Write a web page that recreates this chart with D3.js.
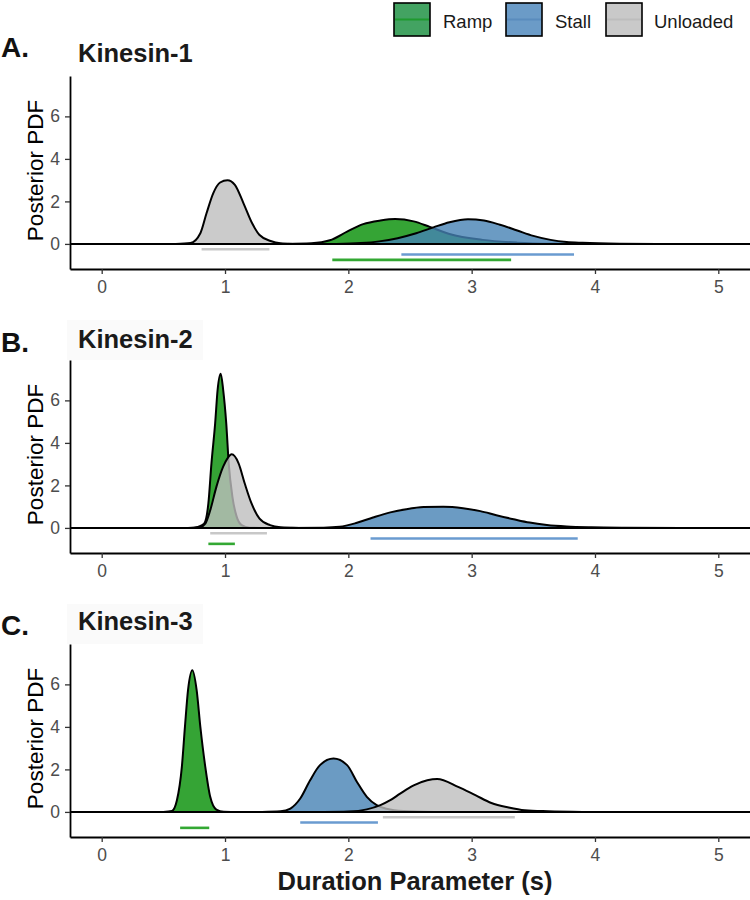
<!DOCTYPE html>
<html>
<head>
<meta charset="utf-8">
<script src="https://cdn.jsdelivr.net/npm/d3@7"></script>
<style>
  body { margin: 0; background: #fff; }
  svg { display: block; font-family: "Liberation Sans", Arial, Helvetica, sans-serif; }
</style>
</head>
<body>
<svg id="chart" width="750" height="900"></svg>
<script>
// ---------------- DATA ----------------
const seriesNames = ["Ramp", "Stall", "Unloaded"];
const panelTitles = ["Kinesin-1", "Kinesin-2", "Kinesin-3"];
const panelLetters = ["A.", "B.", "C."];
const xTicks = [0, 1, 2, 3, 4, 5];
const yTicks = [0, 2, 4, 6];

// posterior densities: [duration (s), PDF]
const k1Ramp = [[1.5,0],[1.7,0.03],[1.85,0.17],[1.99,0.58],[2.12,0.93],[2.26,1.10],[2.38,1.17],[2.53,1.06],[2.66,0.80],[2.82,0.47],[3.09,0.19],[3.37,0.06],[3.65,0.01],[3.9,0]];
const k1Stall = [[1.9,0],[2.1,0.04],[2.25,0.12],[2.4,0.27],[2.55,0.50],[2.69,0.78],[2.82,1.02],[2.97,1.16],[3.1,1.10],[3.23,0.90],[3.37,0.63],[3.5,0.38],[3.64,0.19],[3.77,0.09],[3.9,0.05],[4.2,0.01],[4.5,0]];
const k1Unloaded = [[0.6,0],[0.72,0.04],[0.80,0.50],[0.85,1.44],[0.905,2.39],[0.96,2.89],[1.02,3.0],[1.08,2.78],[1.15,1.91],[1.22,0.97],[1.28,0.42],[1.37,0.14],[1.45,0.03],[1.55,0]];

const k2Ramp = [[0.75,0],[0.83,0.2],[0.865,1.15],[0.89,3.04],[0.92,4.92],[0.94,6.5],[0.965,7.25],[0.985,6.5],[1.01,4.92],[1.03,3.04],[1.06,1.46],[1.095,0.52],[1.135,0.13],[1.2,0.01],[1.3,0]];
const k2Stall = [[1.5,0],[1.8,0.01],[1.93,0.05],[2.07,0.24],[2.2,0.49],[2.34,0.73],[2.47,0.88],[2.61,0.98],[2.77,1.0],[2.93,0.93],[3.07,0.79],[3.2,0.6],[3.34,0.41],[3.47,0.25],[3.61,0.14],[3.77,0.07],[3.97,0.03],[4.24,0.01],[4.7,0]];
const k2Unloaded = [[0.7,0],[0.8,0.04],[0.84,0.2],[0.88,0.83],[0.93,1.93],[0.985,2.88],[1.02,3.27],[1.054,3.46],[1.11,3.04],[1.16,2.09],[1.215,1.15],[1.28,0.44],[1.365,0.13],[1.45,0.03],[1.6,0]];

const k3Ramp = [[0.5,0],[0.57,0.05],[0.61,0.55],[0.65,2.12],[0.675,4.0],[0.70,5.73],[0.735,6.67],[0.77,5.73],[0.80,4.0],[0.84,2.12],[0.88,0.71],[0.93,0.11],[0.99,0.01],[1.05,0]];
const k3Stall = [[1.3,0],[1.45,0.03],[1.53,0.16],[1.61,0.63],[1.69,1.49],[1.77,2.2],[1.88,2.51],[1.99,2.2],[2.07,1.41],[2.15,0.71],[2.23,0.32],[2.31,0.15],[2.45,0.04],[2.7,0]];
const k3Unloaded = [[1.8,0],[2.0,0.02],[2.15,0.12],[2.26,0.32],[2.34,0.55],[2.42,0.86],[2.53,1.25],[2.64,1.49],[2.72,1.55],[2.89,1.18],[3.03,0.79],[3.16,0.42],[3.30,0.21],[3.43,0.08],[3.62,0.03],[3.9,0]];

// credible intervals [low, high] per series (Ramp, Stall, Unloaded)
const k1Intervals = [[1.87, 3.32], [2.43, 3.83], [0.81, 1.36]];
const k2Intervals = [[0.865, 1.08], [2.18, 3.86], [0.88, 1.34]];
const k3Intervals = [[0.636, 0.872], [1.61, 2.24], [2.28, 3.35]];
// level (PDF units) at which each interval is drawn
const intervalLevels = [-0.75, -0.5, -0.25];

// ---------------- STYLE / LAYOUT ----------------
const fillColors = ["#1f9a1f", "#4682b4", "#bebebe"];
const fillOpacity = [0.9, 0.8, 0.8];
const ciColors = ["#33a833", "#6a9bd0", "#c8c8c8"];
const legendFill = ["#43a362", "#6b9bc7", "#c9c9c9"];
const legendLine = ["#1f9a2f", "#5a8cbd", "#bdbdbd"];

const panelDensities = [
  [k1Ramp, k1Stall, k1Unloaded],
  [k2Ramp, k2Stall, k2Unloaded],
  [k3Ramp, k3Stall, k3Unloaded]
];
const panelIntervals = [k1Intervals, k2Intervals, k3Intervals];

const svg = d3.select("#chart");
const plotLeft = 70, plotRight = 750;
const panelTop = 76, panelBottom = 269, panelStep = 284;

const x = d3.scaleLinear().domain([-0.257, 5.257]).range([plotLeft, plotRight]);

panelTitles.forEach((title, p) => {
  const off = p * panelStep;
  const y = d3.scaleLinear().domain([-1.18, 7.9]).range([panelBottom + off, panelTop + off]);
  const g = svg.append("g");

  // title background (faint)
  if (p > 0) {
    g.append("rect").attr("x", 67).attr("y", panelTop + off - 40).attr("width", 136).attr("height", 40)
      .attr("fill", "#fafafa");
  }
  // panel letter & title
  g.append("text").attr("x", 1).attr("y", p === 0 ? 57 : 352 + (p - 1) * 283)
    .attr("font-size", 28).attr("font-weight", "bold").attr("fill", "#111").text(panelLetters[p]);
  g.append("text").attr("x", 78).attr("y", p === 0 ? 62 : 348 + (p - 1) * 282)
    .attr("font-size", 25.5).attr("font-weight", "bold").attr("fill", "#1a1a1a").text(title);

  // densities
  const area = d3.area().x(d => x(d[0])).y0(y(0)).y1(d => y(d[1])).curve(d3.curveMonotoneX);
  const line = d3.line().x(d => x(d[0])).y(d => y(d[1])).curve(d3.curveMonotoneX);
  panelDensities[p].forEach((dens, s) => {
    g.append("path").datum(dens).attr("d", area)
      .attr("fill", fillColors[s]).attr("fill-opacity", fillOpacity[s]);
    g.append("path").datum(dens).attr("d", line)
      .attr("fill", "none").attr("stroke", "#000").attr("stroke-width", 2);
  });

  // zero line
  g.append("line").attr("x1", plotLeft).attr("x2", plotRight)
    .attr("y1", y(0)).attr("y2", y(0)).attr("stroke", "#000").attr("stroke-width", 2);

  // credible intervals
  panelIntervals[p].forEach((iv, s) => {
    g.append("line").attr("x1", x(iv[0])).attr("x2", x(iv[1]))
      .attr("y1", y(intervalLevels[s])).attr("y2", y(intervalLevels[s]))
      .attr("stroke", ciColors[s]).attr("stroke-width", 2.6);
  });

  // axes
  const xa = g.append("g").attr("transform", `translate(0,${panelBottom + off})`)
    .call(d3.axisBottom(x).tickValues(xTicks).tickSize(5).tickSizeOuter(0).tickPadding(7).tickFormat(d3.format("d")));
  const ya = g.append("g").attr("transform", `translate(${plotLeft},0)`)
    .call(d3.axisLeft(y).tickValues(yTicks).tickSize(5).tickSizeOuter(0).tickPadding(5).tickFormat(d3.format("d")));
  [xa, ya].forEach(a => {
    a.select(".domain").attr("stroke", "#000").attr("stroke-width", 1.8);
    a.selectAll(".tick line").attr("stroke", "#333").attr("stroke-width", 1.3);
    a.selectAll(".tick text").attr("fill", "#4d4d4d").attr("font-size", 17.5)
      .attr("font-family", "Liberation Sans, Arial, sans-serif");
  });

  // y title
  g.append("text").attr("transform", `translate(43,${(panelTop + panelBottom) / 2 + off - 2}) rotate(-90)`)
    .attr("text-anchor", "middle").attr("font-size", 22.5).attr("fill", "#000").text("Posterior PDF");
});

// x title
svg.append("text").attr("x", (plotLeft + plotRight) / 2 + 5).attr("y", 890)
  .attr("text-anchor", "middle").attr("font-size", 25.5).attr("font-weight", "bold").attr("fill", "#1a1a1a")
  .text("Duration Parameter (s)");

// legend
const legendBoxX = [394, 506, 606];
const legendTextX = [443, 555, 654];
seriesNames.forEach((name, s) => {
  const lg = svg.append("g");
  lg.append("rect").attr("x", legendBoxX[s]).attr("y", 3).attr("width", 36).attr("height", 33)
    .attr("fill", legendFill[s]).attr("stroke", "#000").attr("stroke-width", 1.6);
  lg.append("line").attr("x1", legendBoxX[s] + 1).attr("x2", legendBoxX[s] + 35)
    .attr("y1", 19.5).attr("y2", 19.5).attr("stroke", legendLine[s]).attr("stroke-width", 2);
  lg.append("text").attr("x", legendTextX[s]).attr("y", 28).attr("font-size", 18.5)
    .attr("fill", "#1a1a1a").text(name);
});
</script>
</body>
</html>
